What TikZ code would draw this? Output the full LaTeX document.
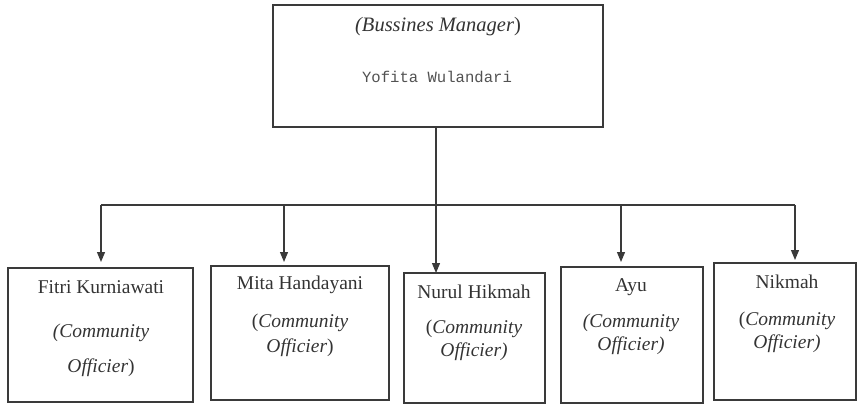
\documentclass[tikz,border=0pt]{standalone}
\usepackage{fontspec}
\setmainfont{Liberation Serif}
\setmonofont{Liberation Mono}
\usetikzlibrary{arrows.meta}
\definecolor{ink}{HTML}{3A3A3A}
\definecolor{txt}{HTML}{333333}
\tikzset{
  box/.style={draw=ink, line width=1.2pt, inner sep=0pt, outer sep=0pt},
  lbl/.style={text=txt, inner sep=0pt, font=\fontsize{19.5}{22}\selectfont},
  ttl/.style={text=txt, inner sep=0pt, font=\fontsize{20.5}{24}\selectfont},
  mono/.style={text=txt!85, inner sep=0pt, font=\ttfamily\fontsize{15.6}{18}\selectfont},
  conn/.style={draw=ink, line width=1.2pt},
  arr/.style={conn, -{Triangle[width=8pt,length=10pt]}}
}
\begin{document}
\begin{tikzpicture}[x=1pt,y=-1pt]
\useasboundingbox (0,0) rectangle (857,404);
% boxes
\node[box, minimum width=330pt, minimum height=122pt] (top) at (438,66) {};
\node[box, minimum width=185pt, minimum height=134pt] (b1) at (100.5,335) {};
\node[box, minimum width=178pt, minimum height=134pt] (b2) at (300,333) {};
\node[box, minimum width=141pt, minimum height=130pt] (b3) at (474.5,338) {};
\node[box, minimum width=142pt, minimum height=136pt] (b4) at (632,335) {};
\node[box, minimum width=142pt, minimum height=137pt] (b5) at (785,331.5) {};
% top texts
\node[ttl] (t1) at (438,27) {\itshape(Bussines Manager\upshape)};
\node[mono] (t2) at (437,77) {Yofita Wulandari};
% box 1
\node[lbl] (n1) at (101,287) {Fitri Kurniawati};
\node[lbl] (c1) at (101,333) {\itshape(Community};
\node[lbl] (o1) at (101,368) {\itshape Officier\upshape)};
% box 2
\node[lbl] (n2) at (300,285) {Mita Handayani};
\node[lbl] (c2) at (300,323) {(\itshape Community};
\node[lbl] (o2) at (300,348) {\itshape Officier\upshape)};
% box 3
\node[lbl] (n3) at (474,292) {Nurul Hikmah};
\node[lbl] (c3) at (474,329) {(\itshape Community};
\node[lbl] (o3) at (474,352) {\itshape Officier)};
% box 4
\node[lbl] (n4) at (631,287) {Ayu};
\node[lbl] (c4) at (631,323) {\itshape(Community};
\node[lbl] (o4) at (631,346) {\itshape Officier)};
% box 5
\node[lbl] (n5) at (787,282) {Nikmah};
\node[lbl] (c5) at (787,321) {(\itshape Community};
\node[lbl] (o5) at (787,344) {\itshape Officier)};
% connectors
\coordinate (h1) at (101,205);
\coordinate (h2) at (284,205);
\coordinate (h4) at (621,205);
\coordinate (h5) at (795,205);
\draw[conn] (h1) -- (h5);
\draw[arr] (top.south -| 436,0) -- (b3.north -| 436,0);
\draw[arr, shorten >=6pt] (h1) -- (h1 |- b1.north);
\draw[arr, shorten >=4pt] (h2) -- (h2 |- b2.north);
\draw[arr, shorten >=5pt] (h4) -- (h4 |- b4.north);
\draw[arr, shorten >=3pt] (h5) -- (h5 |- b5.north);
\end{tikzpicture}
\end{document}
